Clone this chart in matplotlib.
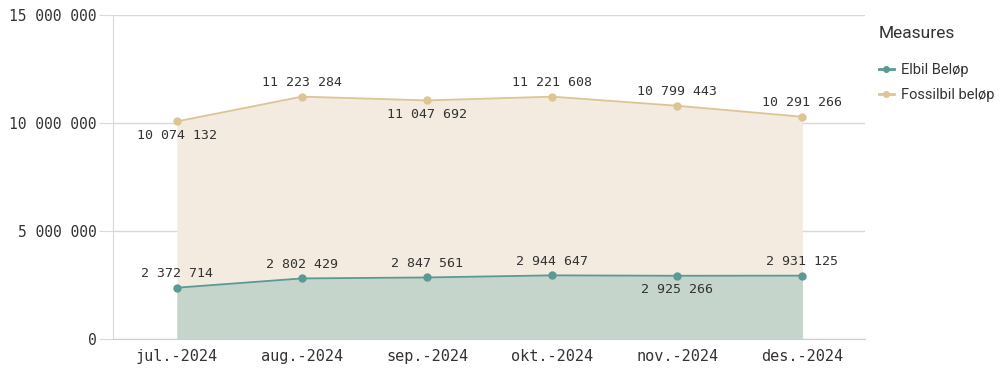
import matplotlib.pyplot as plt
from matplotlib.lines import Line2D

months = ["jul.-2024", "aug.-2024", "sep.-2024", "okt.-2024", "nov.-2024", "des.-2024"]
elbil = [2372714, 2802429, 2847561, 2944647, 2925266, 2931125]
fossil = [10074132, 11223284, 11047692, 11221608, 10799443, 10291266]
# label placement per point: +1 above, -1 below
elbil_pos = [1, 1, 1, 1, -1, 1]
fossil_pos = [-1, 1, -1, 1, 1, 1]

EL_LINE, EL_FILL = "#5b9995", "#c5d5cc"
FO_LINE, FO_FILL = "#dcc595", "#f3ebdf"
MONO = "DejaVu Sans Mono"
TEXT = "#333333"


def fmt(v):
    return f"{v:,}".replace(",", " ")


fig = plt.figure(figsize=(10, 3.68), dpi=100)
ax = fig.add_axes([0.113, 0.079, 0.752, 0.88])
x = list(range(len(months)))

ax.fill_between(x, fossil, color=FO_FILL, lw=0, zorder=1)
ax.fill_between(x, elbil, color=EL_FILL, lw=0, zorder=2)
ax.plot(x, fossil, color=FO_LINE, lw=1.3, marker="o", ms=5, zorder=3)
ax.plot(x, elbil, color=EL_LINE, lw=1.3, marker="o", ms=5, zorder=3)

for xs, ys, pos in [(x, elbil, elbil_pos), (x, fossil, fossil_pos)]:
    for xi, yi, p in zip(xs, ys, pos):
        ax.annotate(fmt(yi), (xi, yi), xytext=(0, 5.5 * p), textcoords="offset points",
                    ha="center", va="bottom" if p > 0 else "top",
                    fontsize=9.5, family=MONO, color=TEXT)

ax.set_xlim(-0.51, 5.5)
ax.set_ylim(0, 15000000)
ax.set_yticks([0, 5000000, 10000000, 15000000])
ax.set_yticklabels([fmt(v) for v in [0, 5000000, 10000000, 15000000]],
                   family=MONO, fontsize=10.5, color=TEXT)
ax.set_xticks(x)
ax.set_xticklabels(months, family=MONO, fontsize=11, color=TEXT)
ax.grid(axis="y", color="#d9d9d9", lw=1)
ax.set_axisbelow(True)
for s in ["top", "right"]:
    ax.spines[s].set_visible(False)
ax.spines["left"].set_color("#d9d9d9")
ax.spines["bottom"].set_color("#cccccc")
ax.tick_params(axis="y", length=10, color="#d9d9d9", pad=2)
ax.tick_params(axis="x", length=0, pad=7)

handles = [Line2D([], [], color=EL_LINE, marker="o", ms=4, lw=2),
           Line2D([], [], color=FO_LINE, marker="o", ms=4, lw=2)]
leg = fig.legend(handles, ["Elbil Beløp", "Fossilbil beløp"], title="Measures",
                 loc="upper left", bbox_to_anchor=(0.866, 0.965), frameon=False,
                 prop={"family": "Roboto", "size": 10.5}, handlelength=1.0,
                 handletextpad=0.5, labelspacing=0.75, labelcolor=TEXT)
leg.get_title().set_fontfamily("Roboto")
leg.get_title().set_fontsize(12.5)
leg.get_title().set_color(TEXT)
leg._legend_box.align = "left"
leg._legend_box.sep = 16

fig.savefig("out.png")
